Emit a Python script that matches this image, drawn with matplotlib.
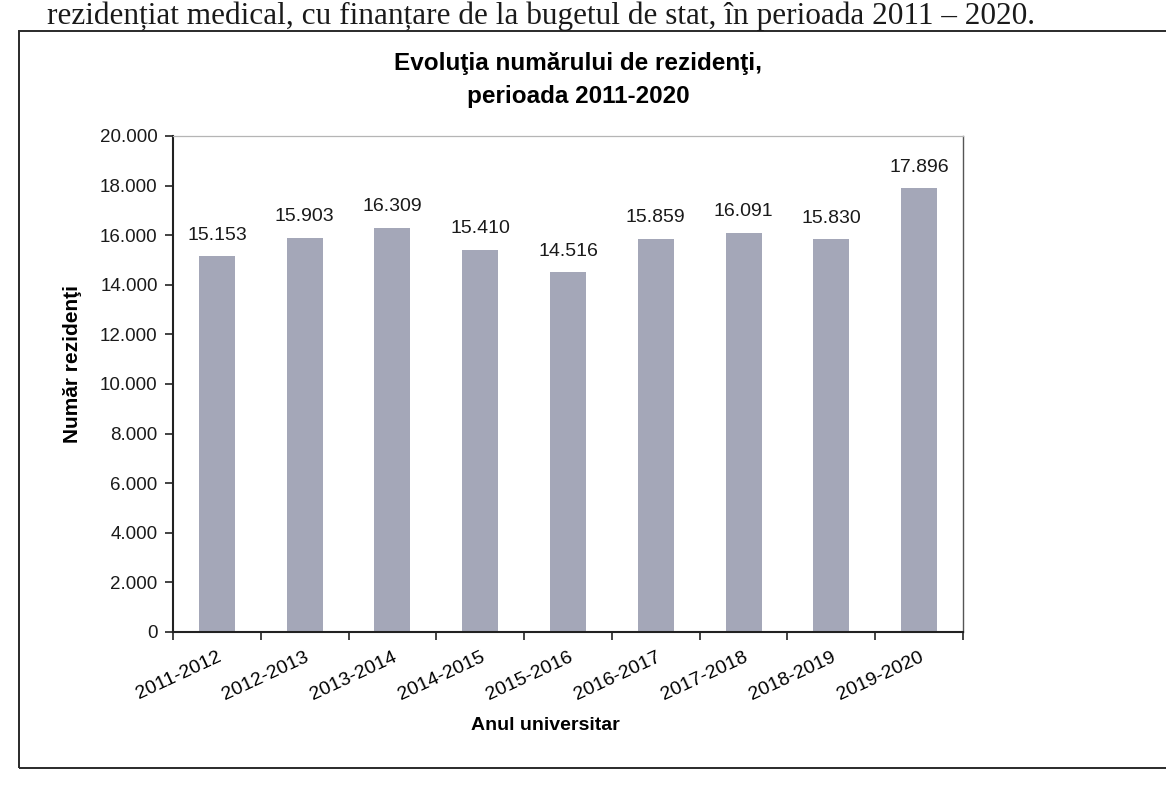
import matplotlib
matplotlib.use("Agg")
import matplotlib.pyplot as plt
import matplotlib.transforms as mtransforms
from matplotlib.ticker import FuncFormatter, FixedLocator
from matplotlib.patches import Rectangle

categories = ["2011-2012", "2012-2013", "2013-2014", "2014-2015", "2015-2016",
              "2016-2017", "2017-2018", "2018-2019", "2019-2020"]
values = [15153, 15903, 16309, 15410, 14516, 15859, 16091, 15830, 17896]
value_labels = ["15.153", "15.903", "16.309", "15.410", "14.516",
                "15.859", "16.091", "15.830", "17.896"]
y_ticks = [0, 2000, 4000, 6000, 8000, 10000, 12000, 14000, 16000, 18000, 20000]
title = "Evoluţia numărului de rezidenţi,\nperioada 2011-2020"
ylabel = "Număr rezidenţi"
xlabel = "Anul universitar"
header = "rezidențiat medical, cu finanțare de la bugetul de stat, în perioada 2011 – 2020."

plt.rcParams['font.family'] = ['Liberation Sans', 'DejaVu Sans']

fig = plt.figure(figsize=(11.66, 7.92), dpi=100)
W, H = 1166, 792

# outer frame of the chart
fig.patches.append(Rectangle((19 / W, 1 - 768 / H), (1170 - 19) / W, (768 - 31) / H,
                             transform=fig.transFigure, fill=False, lw=1.4,
                             edgecolor='#2a2a2a', clip_on=False))

# header line of the document above the chart
fig.text(1035 / W, 1 - 24 / H, header, fontsize=22.5,
         family=['Liberation Serif', 'DejaVu Serif'],
         ha='right', va='baseline', color='#1a1a1a')

top_px, bot_px = 136, 632
ax = fig.add_axes([173 / W, 1 - bot_px / H, (963 - 173) / W, (bot_px - top_px) / H])
x = list(range(len(categories)))
ax.bar(x, values, width=0.41, color='#a4a7b8', edgecolor='none')
for xi, v, lab in zip(x, values, value_labels):
    ax.annotate(lab, (xi, v), xytext=(0, 9), textcoords='offset points',
                ha='center', va='bottom', fontsize=14, color='#1a1a1a')

ax.set_xlim(-0.5, len(categories) - 0.5)
ax.set_ylim(0, 20000)
ax.set_yticks(y_ticks)
ax.yaxis.set_major_formatter(FuncFormatter(lambda v, p: f"{int(v):,}".replace(",", ".")))
ax.set_xticks(x)
ax.set_xticklabels(categories, rotation=25, ha='right', rotation_mode='anchor', fontsize=14)
offset = mtransforms.ScaledTranslation(0.06, 0, fig.dpi_scale_trans)
for lbl in ax.get_xticklabels():
    lbl.set_transform(lbl.get_transform() + offset)
ax.tick_params(axis='x', length=0, pad=12)
ax.xaxis.set_minor_locator(FixedLocator([i - 0.5 for i in range(len(categories) + 1)]))
ax.tick_params(axis='x', which='minor', length=6, direction='out', width=1.2, color='#222222')
ax.tick_params(axis='y', length=6, direction='out', width=1.2, color='#222222',
               labelsize=13.5, pad=5, labelcolor='#1a1a1a')

for s in ['left', 'bottom']:
    ax.spines[s].set_linewidth(1.5)
    ax.spines[s].set_color('#222222')
ax.spines['top'].set_linewidth(0.9)
ax.spines['top'].set_color('#b5b5b5')
ax.spines['right'].set_linewidth(1.0)
ax.spines['right'].set_color('#555555')

ax.set_ylabel(ylabel, fontsize=15, fontweight='bold')
ax.yaxis.set_label_coords(-0.115, 0.54)
ax.set_xlabel(xlabel, fontsize=14, fontweight='bold')
ax.xaxis.set_label_coords(0.471, -0.172)

fig.text(578 / W, 1 - 80 / H, title, ha='center', va='center', fontsize=17.5,
         fontweight='bold', linespacing=1.6)

fig.savefig("out.png", dpi=100)
